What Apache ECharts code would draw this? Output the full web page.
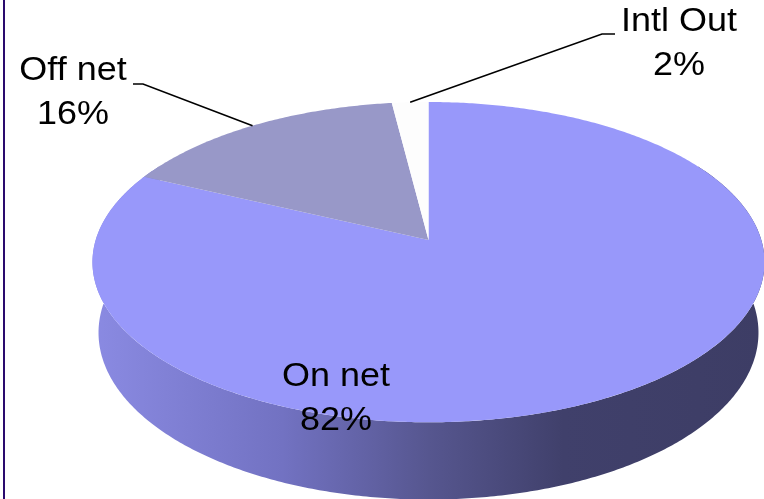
<!DOCTYPE html>
<html>
<head>
<meta charset="utf-8">
<script src="https://cdn.jsdelivr.net/npm/echarts@6/dist/echarts.min.js"></script>
<style>
  html, body { margin: 0; padding: 0; background: #ffffff; }
  #chart { width: 764px; height: 499px; }
</style>
</head>
<body>
<div id="chart"></div>
<script>
// Call traffic split
const categories = ['On net', 'Off net', 'Intl Out'];
const values = [82, 16, 2];
const percentLabels = ['82%', '16%', '2%'];

// Slice colours for the top face
const sliceColors = ['#9898fa', '#9898c8', '#fdfdfd'];

// Perspective camera for the tilted disc (unit radius)
const cam = { cx: 428.5, cy: 240, f: 2120, D: 6.37, s: 0.472, c: 0.881, depth: 0.243 };

// theta: clockwise from the far (12 o'clock) point, h: height (0 = top face)
function project(theta, h) {
  const X = Math.sin(theta), Z = Math.cos(theta);
  const yc = h * cam.c + Z * cam.s;
  const zc = Z * cam.c - h * cam.s + cam.D;
  return [cam.cx + cam.f * X / zc, cam.cy - cam.f * yc / zc];
}

const total = values.reduce((a, b) => a + b, 0);
const starts = [];
let acc = 0;
values.forEach(v => { starts.push(acc / total * Math.PI * 2); acc += v; });

// Label anchors (line centres) and leader-line elbows
const labelPos = [
  { x: 336, y: 377, line: null },
  { x: 73, y: 71, line: [[133, 84], [143, 84]] },
  { x: 679, y: 22, line: [[615, 34], [602, 34]] }
];

function arcPoints(a0, a1, h) {
  const pts = [];
  const n = Math.max(4, Math.ceil((a1 - a0) / 0.01));
  for (let i = 0; i <= n; i++) pts.push(project(a0 + (a1 - a0) * i / n, h));
  return pts;
}

function renderItem(params, api) {
  const i = params.dataIndex;
  const v = api.value(0);
  const a0 = starts[i];
  const a1 = a0 + v / total * Math.PI * 2;
  const children = [];

  if (i === 0) {
    // front wall of the cylinder, shaded left to right
    const t0 = Math.PI * 60 / 180, t1 = Math.PI * 300 / 180;
    const top = arcPoints(t0, t1, 0);
    const bottom = arcPoints(t0, t1, -cam.depth).reverse();
    children.push({
      type: 'polygon',
      z2: 1,
      shape: { points: top.concat(bottom) },
      style: {
        fill: new echarts.graphic.LinearGradient(95, 0, 764, 0, [
          { offset: 0, color: '#8a8ae2' },
          { offset: 0.28, color: '#7272c2' },
          { offset: 0.5, color: '#56568f' },
          { offset: 0.7, color: '#40406b' },
          { offset: 1, color: '#3d3d65' }
        ], true)
      }
    });
  }

  // top face of the slice
  const apex = [cam.cx, cam.cy];
  children.push({
    type: 'polygon',
    z2: 5,
    shape: { points: [apex].concat(arcPoints(a0, a1, 0)) },
    style: { fill: sliceColors[i] }
  });

  // label text
  const lp = labelPos[i];
  const font = { fontFamily: '"Liberation Sans", Arial, sans-serif', fontSize: 33, fill: '#000000', align: 'center', verticalAlign: 'middle' };
  children.push({ type: 'text', z2: 20, x: lp.x, y: lp.y, scaleX: 1.09, style: Object.assign({ x: 0, y: 0, text: api.value(1) }, font) });
  children.push({ type: 'text', z2: 20, x: lp.x, y: lp.y + 44, scaleX: 1.09, style: Object.assign({ x: 0, y: 0, text: percentLabels[i] }, font) });

  // leader line from the slice's rim midpoint
  if (lp.line) {
    const mid = project((a0 + a1) / 2, 0);
    children.push({
      type: 'polyline',
      z2: 15,
      shape: { points: [lp.line[0], lp.line[1], mid] },
      style: { stroke: '#000000', lineWidth: 1.6, fill: null }
    });
  }

  return { type: 'group', children };
}

const chart = echarts.init(document.getElementById('chart'), null, { renderer: 'canvas' });
chart.setOption({
  backgroundColor: '#ffffff',
  animation: false,
  graphic: [{
    type: 'rect',
    shape: { x: 3, y: 0, width: 2, height: 499 },
    style: { fill: '#2a0a6e' }
  }],
  series: [{
    type: 'custom',
    coordinateSystem: 'none',
    renderItem: renderItem,
    data: values.map((v, i) => [v, categories[i]])
  }]
});
</script>
</body>
</html>
